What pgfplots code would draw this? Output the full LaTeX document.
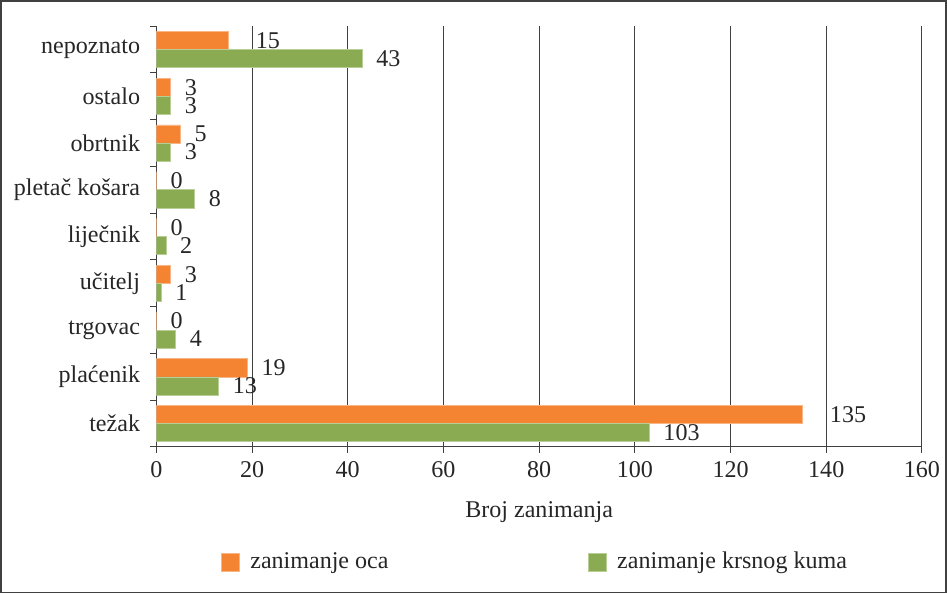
\documentclass[border=0pt]{standalone}
\usepackage{fontspec}
\setmainfont{Liberation Serif}
\usepackage{pgfplots}
\pgfplotsset{compat=1.18}
\definecolor{oca}{RGB}{245,132,50}
\definecolor{kum}{RGB}{138,171,82}
\definecolor{gridc}{RGB}{64,64,64}
\definecolor{txt}{RGB}{38,38,38}
\begin{document}
\fontsize{18}{21}\selectfont
\begin{tikzpicture}
\useasboundingbox (-117pt,-109.5pt) rectangle (591.75pt,334.5pt);
\begin{axis}[
  at={(0,0)}, anchor=south west,
  scale only axis, width=573pt, height=315pt,
  xmin=0, xmax=160, ymin=-0.5, ymax=8.5,
  xtick={0,20,...,160},
  ytick={0,...,8},
  yticklabels={težak,plaćenik,trgovac,učitelj,liječnik,pletač košara,obrtnik,ostalo,nepoznato},
  minor ytick={-0.5,0.5,...,8.5},
  axis x line*=bottom, axis y line*=left,
  axis line style={gridc, line width=0.75pt},
  xmajorgrids, major grid style={gridc, line width=0.75pt},
  tick align=outside,
  major tick length=4.5pt, minor tick length=4.5pt,
  tick style={gridc, line width=0.75pt},
  major y tick style={draw=none},
  yticklabel style={anchor=east, inner sep=0pt, xshift=-7.5pt, text=txt},
  xticklabel style={text=txt},
  /pgf/number format/assume math mode=true,
  xlabel={Broj zanimanja},
  every axis x label/.style={at={(axis description cs:0.5,0)}, anchor=base, yshift=-52.5pt, text=txt},
  xbar, bar width=13.5pt,
  nodes near coords, nodes near coords align={horizontal},
  nodes near coords style={anchor=west, inner sep=0pt, xshift=10.5pt, text=txt},
  legend columns=2,
  legend style={at={(axis description cs:0,0)}, anchor=west, xshift=48pt, yshift=-86.25pt,
    draw=none, fill=none, inner sep=0pt, nodes={inner sep=0pt, anchor=west, text=txt},
    /tikz/every odd column/.append style={column sep=8.25pt},
    /tikz/every even column/.append style={column sep=149pt}},
  legend image code/.code={\fill[#1] (0pt,-6.75pt) rectangle (13.5pt,6.75pt);},
]
\addplot[fill=oca, draw=oca!60!white, line width=0.4pt, bar shift=6.75pt,
  coordinate style/.condition={x==15 || x==135}{xshift=10pt}]
  coordinates {(135,0) (19,1) (0,2) (3,3) (0,4) (0,5) (5,6) (3,7) (15,8)};
\addplot[fill=kum, draw=kum!60!white, line width=0.4pt, bar shift=-6.75pt]
  coordinates {(103,0) (13,1) (4,2) (1,3) (2,4) (8,5) (3,6) (3,7) (43,8)};
\legend{zanimanje oca, zanimanje krsnog kuma}
\end{axis}
\draw[gridc, line width=1.2pt] (-116.4pt,-108.9pt) rectangle (591.15pt,333.9pt);
\end{tikzpicture}
\end{document}
